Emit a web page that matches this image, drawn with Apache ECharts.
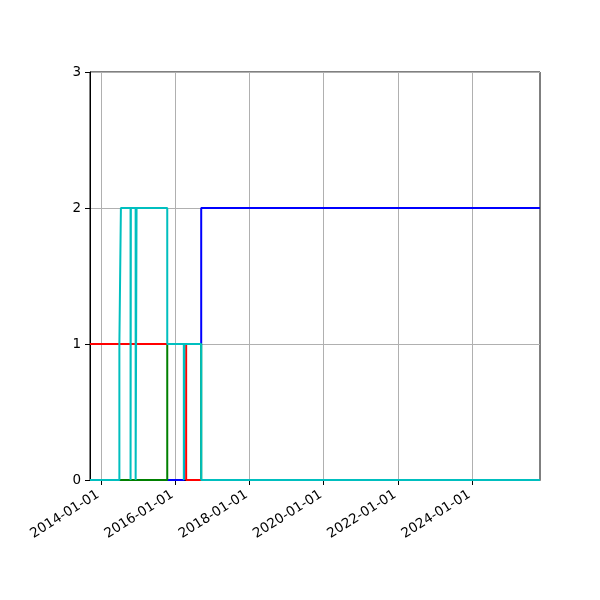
<!DOCTYPE html>
<html>
<head>
<meta charset="utf-8">
<script src="https://cdn.jsdelivr.net/npm/echarts@6/dist/echarts.min.js"></script>
<style>
  html, body { margin: 0; padding: 0; background: #fff; }
  #chart { width: 600px; height: 600px; }
</style>
</head>
<body>
<div id="chart"></div>
<script>
// x range and tick labels
var xStart = '2013-09-17';
var xEnd = '2025-10-31';
var tickDates = ['2014-01-01', '2016-01-01', '2018-01-01', '2020-01-01', '2022-01-01', '2024-01-01'];
var yTicks = [0, 1, 2, 3];

// step series (value holds until the next date)
var blueDates = ['2013-09-17', '2016-03-30', '2016-09-15', '2025-10-31'];
var blueValues = [0, 1, 2, 2];

var greenDates = ['2014-07-03', '2015-10-17', '2016-09-15', '2025-10-31'];
var greenValues = [0, 1, 0, 0];

var redDates = ['2013-09-17', '2016-04-20', '2025-10-31'];
var redValues = [1, 0, 0];

var cyanDates = ['2013-09-17', '2014-07-03', '2014-07-18', '2014-10-21', '2014-10-24',
                 '2014-12-10', '2014-12-19', '2015-10-17', '2016-03-28', '2016-04-02',
                 '2016-09-15', '2025-10-31'];
var cyanValues = [0, 1, 2, 0, 2, 0, 2, 1, 0, 1, 0, 0];

function toPairs(dates, values) {
  return dates.map(function (d, i) { return [Date.parse(d), values[i]]; });
}
function pad(n) { return n < 10 ? '0' + n : '' + n; }
function fmt(t) {
  var d = new Date(t);
  return d.getUTCFullYear() + '-' + pad(d.getUTCMonth() + 1) + '-' + pad(d.getUTCDate());
}
function stepSeries(name, color, dates, values) {
  return {
    name: name,
    type: 'line',
    step: 'end',
    showSymbol: false,
    symbol: 'none',
    lineStyle: { color: color, width: 2 },
    itemStyle: { color: color },
    data: toPairs(dates, values)
  };
}

var tickValues = tickDates.map(function (d) { return Date.parse(d); });

var myChart = echarts.init(document.getElementById('chart'));
myChart.setOption({
  animation: false,
  textStyle: { fontFamily: 'DejaVu Sans' },
  grid: {
    left: 90, right: 60, top: 72, bottom: 120,
    show: true, borderColor: '#000', borderWidth: 1
  },
  xAxis: {
    type: 'value',
    scale: true,
    min: Date.parse(xStart),
    max: Date.parse(xEnd),
    axisLine: { show: true, onZero: false, lineStyle: { color: '#000', width: 1 } },
    axisTick: {
      show: true, length: 5, lineStyle: { color: '#000', width: 1 },
      customValues: tickValues
    },
    axisLabel: {
      color: '#000', fontSize: 13.5, rotate: 32, margin: 12,
      padding: [0, 3, 0, 0],
      customValues: tickValues,
      formatter: function (v) { return fmt(v); }
    },
    splitLine: { show: true, lineStyle: { color: '#b0b0b0', width: 1 } }
  },
  yAxis: {
    type: 'value',
    min: yTicks[0],
    max: yTicks[yTicks.length - 1],
    interval: 1,
    axisLine: { show: true, lineStyle: { color: '#000', width: 1 } },
    axisTick: { show: true, length: 5, lineStyle: { color: '#000', width: 1 } },
    axisLabel: { color: '#000', fontSize: 13.5, margin: 9 },
    splitLine: { show: true, lineStyle: { color: '#b0b0b0', width: 1 } }
  },
  series: [
    stepSeries('b', '#0000ff', blueDates, blueValues),
    stepSeries('g', '#008000', greenDates, greenValues),
    stepSeries('r', '#ff0000', redDates, redValues),
    stepSeries('c', '#00bfbf', cyanDates, cyanValues)
  ]
});
</script>
</body>
</html>
